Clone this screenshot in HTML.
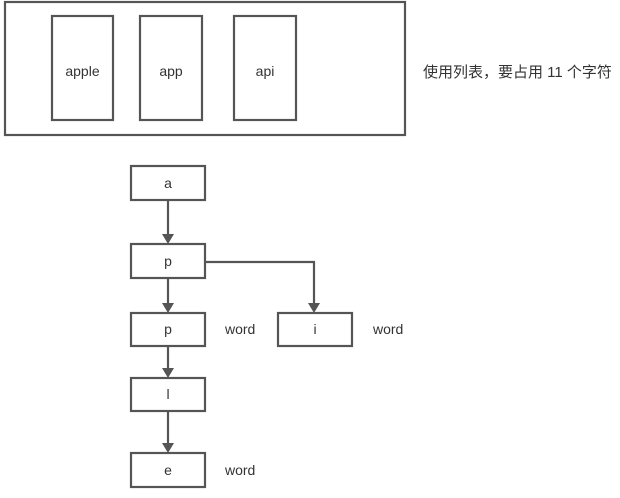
<!DOCTYPE html>
<html><head><meta charset="utf-8"><style>
html,body{margin:0;padding:0;background:#fff;}
svg{display:block;}
text{font-family:"Liberation Sans","Noto Sans CJK SC",sans-serif;fill:#333;}
</style></head><body>
<svg width="620" height="498" viewBox="0 0 620 498" xmlns="http://www.w3.org/2000/svg">
<g fill="none" stroke="#555" stroke-width="2.2">
<rect x="5" y="2" width="400" height="133"/>
<rect x="52" y="16" width="61" height="104"/>
<rect x="140" y="16" width="62" height="104"/>
<rect x="234" y="16" width="62" height="104"/>
<rect x="131" y="166" width="74" height="34"/>
<rect x="131" y="244" width="74" height="34"/>
<rect x="131" y="313" width="74" height="33"/>
<rect x="131" y="378" width="74" height="33"/>
<rect x="131" y="453" width="74" height="34"/>
<rect x="278" y="313" width="74" height="33"/>
<path d="M168 200 V236 M168 278 V305 M168 346 V370 M168 411 V445 M205 262 H314 V305"/>
</g>
<g fill="#555">
<path d="M162 234 L174 234 L168 244 z"/>
<path d="M162 303 L174 303 L168 313 z"/>
<path d="M162 368 L174 368 L168 378 z"/>
<path d="M162 443 L174 443 L168 453 z"/>
<path d="M308 303 L320 303 L314 313 z"/>
</g>
<g font-size="14" text-anchor="middle">
<text x="82.5" y="76">apple</text>
<text x="171" y="76">app</text>
<text x="265" y="76">api</text>
<text x="168" y="188">a</text>
<text x="168" y="266">p</text>
<text x="168" y="334">p</text>
<text x="168" y="399">l</text>
<text x="168" y="475">e</text>
<text x="315" y="334">i</text>
</g>
<g font-size="14">
<text x="225" y="334">word</text>
<text x="373" y="334">word</text>
<text x="225" y="475">word</text>
<text x="423" y="77" font-size="15">使用列表，要占用 11 个字符</text>
</g>
</svg>
</body></html>
